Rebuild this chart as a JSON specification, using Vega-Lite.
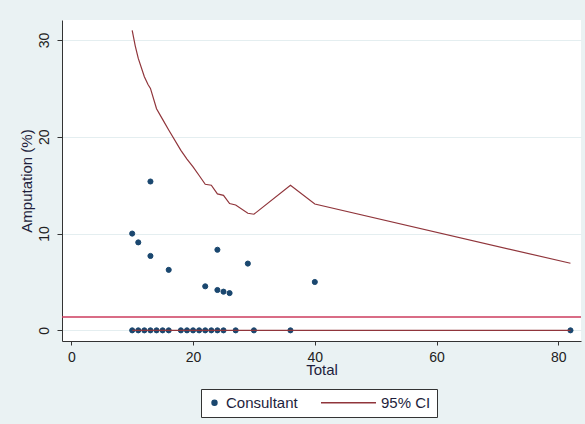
{
  "$schema": "https://vega.github.io/schema/vega-lite/v6.json",
  "width": 519,
  "height": 321,
  "autosize": {"type": "none"},
  "padding": {"left": 62, "top": 20, "right": 4, "bottom": 83},
  "background": "#eaf2f3",
  "config": {
    "view": {"fill": "white", "stroke": null},
    "font": "Liberation Sans",
    "legend": {
      "orient": "none", "legendX": 139, "legendY": 369,
      "direction": "horizontal",
      "strokeColor": "#333333", "fillColor": "white", "padding": 6,
      "labelFontSize": 15, "labelColor": "#1e1e3c", "labelOffset": 4,
      "columnPadding": 22, "symbolStrokeWidth": 1.3, "clipHeight": 15
    }
  },
  "datasets": {
    "hospitals": [
      {"Total": 10, "Amputation": 10.0, "series": "Consultant"},
      {"Total": 11, "Amputation": 9.09, "series": "Consultant"},
      {"Total": 13, "Amputation": 7.69, "series": "Consultant"},
      {"Total": 13, "Amputation": 15.38, "series": "Consultant"},
      {"Total": 16, "Amputation": 6.25, "series": "Consultant"},
      {"Total": 22, "Amputation": 4.55, "series": "Consultant"},
      {"Total": 24, "Amputation": 8.33, "series": "Consultant"},
      {"Total": 24, "Amputation": 4.17, "series": "Consultant"},
      {"Total": 25, "Amputation": 4.0, "series": "Consultant"},
      {"Total": 26, "Amputation": 3.85, "series": "Consultant"},
      {"Total": 29, "Amputation": 6.9, "series": "Consultant"},
      {"Total": 40, "Amputation": 5.0, "series": "Consultant"},
      {"Total": 10, "Amputation": 0, "series": "Consultant"},
      {"Total": 11, "Amputation": 0, "series": "Consultant"},
      {"Total": 12, "Amputation": 0, "series": "Consultant"},
      {"Total": 13, "Amputation": 0, "series": "Consultant"},
      {"Total": 14, "Amputation": 0, "series": "Consultant"},
      {"Total": 15, "Amputation": 0, "series": "Consultant"},
      {"Total": 16, "Amputation": 0, "series": "Consultant"},
      {"Total": 18, "Amputation": 0, "series": "Consultant"},
      {"Total": 19, "Amputation": 0, "series": "Consultant"},
      {"Total": 20, "Amputation": 0, "series": "Consultant"},
      {"Total": 21, "Amputation": 0, "series": "Consultant"},
      {"Total": 22, "Amputation": 0, "series": "Consultant"},
      {"Total": 23, "Amputation": 0, "series": "Consultant"},
      {"Total": 24, "Amputation": 0, "series": "Consultant"},
      {"Total": 25, "Amputation": 0, "series": "Consultant"},
      {"Total": 27, "Amputation": 0, "series": "Consultant"},
      {"Total": 30, "Amputation": 0, "series": "Consultant"},
      {"Total": 36, "Amputation": 0, "series": "Consultant"},
      {"Total": 82, "Amputation": 0, "series": "Consultant"}
    ],
    "ci": [
      {"Total": 10, "Limit": 31.0, "bound": "upper"},
      {"Total": 10.5, "Limit": 29.4, "bound": "upper"},
      {"Total": 11, "Limit": 28.1, "bound": "upper"},
      {"Total": 12, "Limit": 26.2, "bound": "upper"},
      {"Total": 12.6, "Limit": 25.4, "bound": "upper"},
      {"Total": 13, "Limit": 25.0, "bound": "upper"},
      {"Total": 14, "Limit": 22.9, "bound": "upper"},
      {"Total": 15, "Limit": 21.8, "bound": "upper"},
      {"Total": 16, "Limit": 20.7, "bound": "upper"},
      {"Total": 18, "Limit": 18.6, "bound": "upper"},
      {"Total": 19, "Limit": 17.7, "bound": "upper"},
      {"Total": 20, "Limit": 16.9, "bound": "upper"},
      {"Total": 21, "Limit": 16.0, "bound": "upper"},
      {"Total": 22, "Limit": 15.1, "bound": "upper"},
      {"Total": 23, "Limit": 15.0, "bound": "upper"},
      {"Total": 24, "Limit": 14.1, "bound": "upper"},
      {"Total": 25, "Limit": 13.95, "bound": "upper"},
      {"Total": 26, "Limit": 13.1, "bound": "upper"},
      {"Total": 27, "Limit": 12.95, "bound": "upper"},
      {"Total": 29, "Limit": 12.1, "bound": "upper"},
      {"Total": 30, "Limit": 12.0, "bound": "upper"},
      {"Total": 36, "Limit": 15.0, "bound": "upper"},
      {"Total": 40, "Limit": 13.05, "bound": "upper"},
      {"Total": 82, "Limit": 6.93, "bound": "upper"},
      {"Total": 10, "Limit": 0, "bound": "lower"},
      {"Total": 82, "Limit": 0, "bound": "lower"}
    ],
    "overall": [
      {"Rate": 1.38}
    ]
  },
  "layer": [
    {
      "data": {"name": "overall"},
      "mark": {"type": "rule", "color": "#cc3b5e", "strokeWidth": 1.5},
      "encoding": {
        "y": {"field": "Rate", "type": "quantitative"}
      }
    },
    {
      "data": {"name": "hospitals"},
      "mark": {"type": "point", "opacity": 1, "strokeWidth": 1},
      "encoding": {
        "x": {
          "field": "Total", "type": "quantitative",
          "scale": {"domain": [-1.53, 83.73], "nice": false, "zero": false},
          "axis": {
            "title": "Total", "values": [0, 20, 40, 60, 80], "grid": false,
            "domainColor": "#333333", "tickColor": "#333333", "tickSize": 4,
            "labelFontSize": 14, "labelPadding": 5, "labelColor": "#222222",
            "titleFontSize": 15, "titleFontWeight": "normal", "titlePadding": -2, "titleColor": "#1e1e3c",
            "labelFlush": false
          }
        },
        "y": {
          "field": "Amputation", "type": "quantitative",
          "scale": {"domain": [-1.1, 32.07], "nice": false, "zero": false},
          "axis": {
            "title": "Amputation (%)", "values": [0, 10, 20, 30], "grid": true,
            "gridColor": "#e4eef0", "gridWidth": 1.2,
            "domainColor": "#333333", "tickColor": "#333333", "tickSize": 5,
            "labelAngle": -90, "labelAlign": "center", "labelBaseline": "bottom",
            "labelFontSize": 14, "labelPadding": 6, "labelColor": "#222222",
            "titleFontSize": 15, "titleFontWeight": "normal", "titlePadding": 3, "titleColor": "#1e1e3c"
          }
        },
        "fill": {
          "field": "series", "type": "nominal",
          "scale": {"domain": ["Consultant", "95% CI"], "range": ["#1a476f", "#90353b"]},
          "legend": {"title": null}
        },
        "stroke": {
          "field": "series", "type": "nominal",
          "scale": {"domain": ["Consultant", "95% CI"], "range": ["#1a476f", "#90353b"]},
          "legend": {"title": null}
        },
        "shape": {
          "field": "series", "type": "nominal",
          "scale": {"domain": ["Consultant", "95% CI"], "range": ["circle", "stroke"]},
          "legend": {"title": null}
        },
        "size": {
          "field": "series", "type": "nominal",
          "scale": {"type": "ordinal", "domain": ["Consultant", "95% CI"], "range": [26, 3025]},
          "legend": {"title": null}
        }
      }
    },
    {
      "data": {"name": "ci"},
      "mark": {"type": "line", "color": "#90353b", "strokeWidth": 1.2},
      "encoding": {
        "x": {"field": "Total", "type": "quantitative"},
        "y": {"field": "Limit", "type": "quantitative"},
        "detail": {"field": "bound", "type": "nominal"}
      }
    }
  ]
}
